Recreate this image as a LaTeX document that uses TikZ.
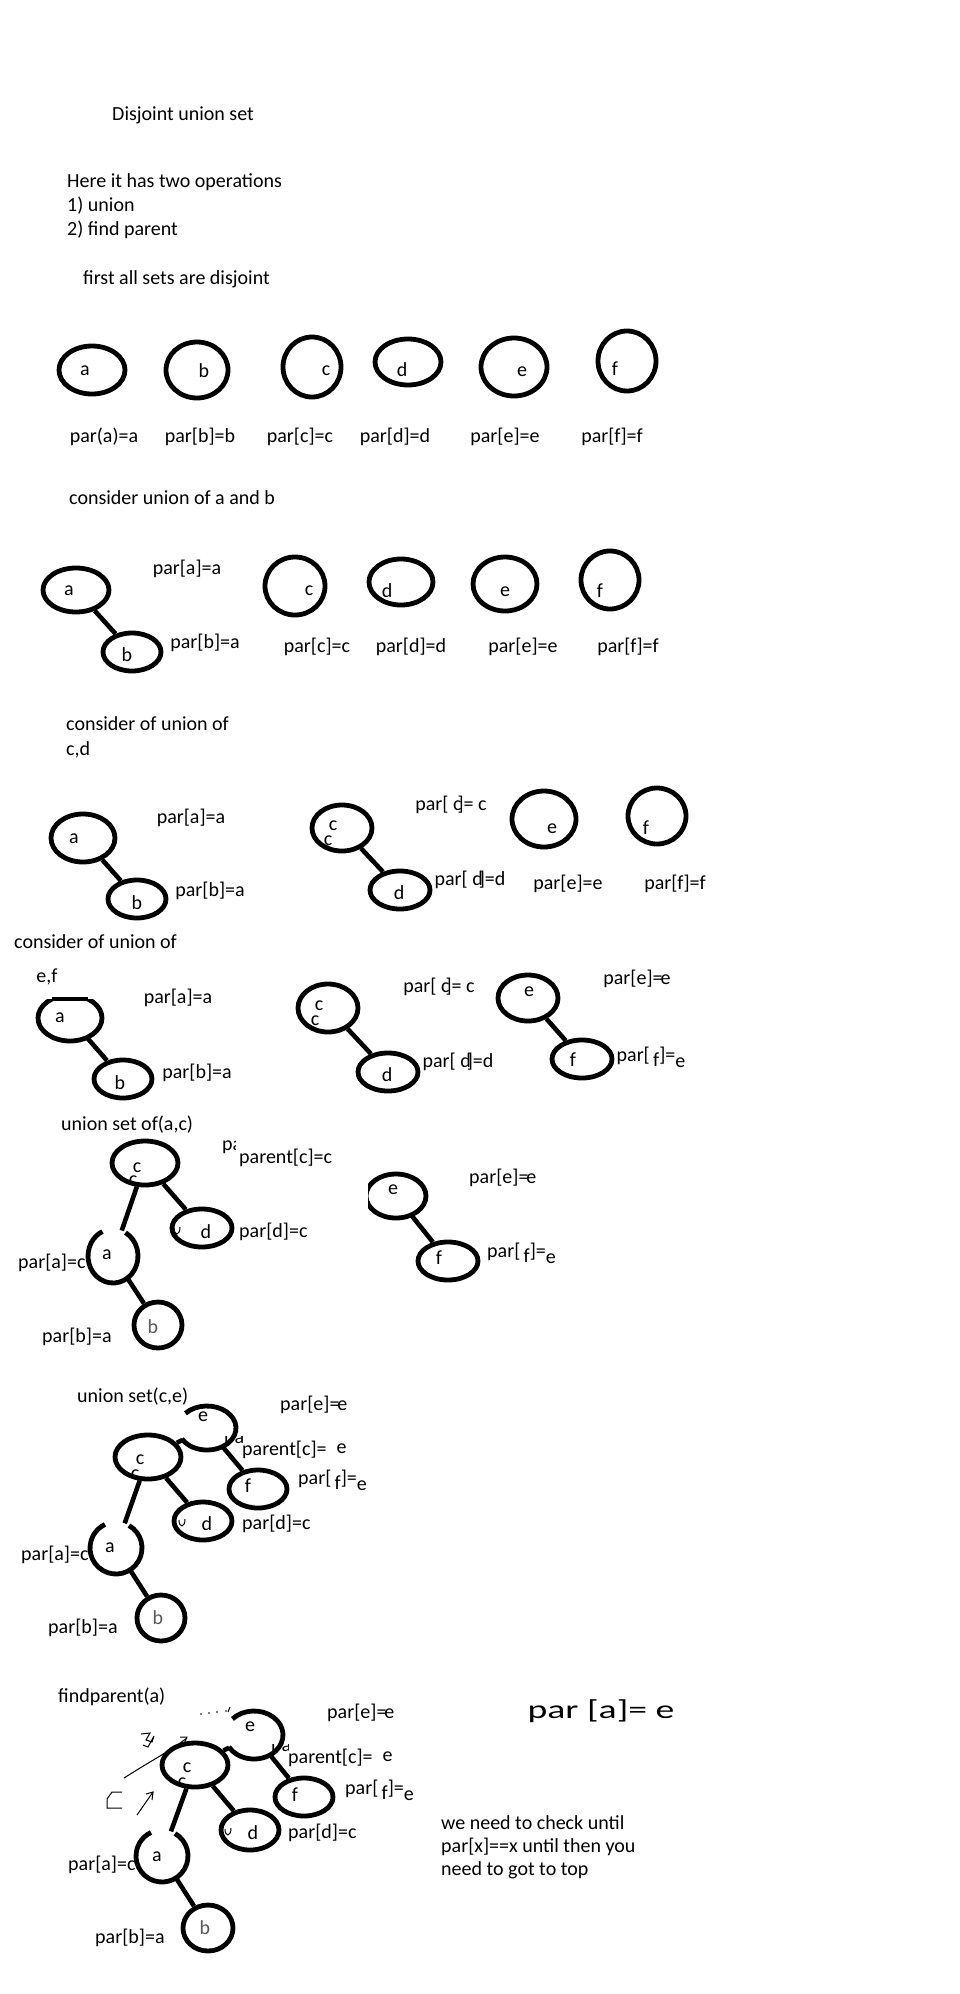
\documentclass[tikz,border=0pt]{standalone}
\usepackage{fontspec}
\setmainfont{Carlito}
\usetikzlibrary{shapes.geometric}
\newcommand\ringnode[5]{\node[ring, minimum width={2*#4}, minimum height={2*#5}] (#1) at (#2,#3) {};}
\newcommand\hollownode[5]{\node[ellipse, inner sep=0pt, minimum width={2*#4}, minimum height={2*#5}] (#1) at (#2,#3) {};}
\begin{document}
\begin{tikzpicture}[x=1pt,y=-1pt,
  txt/.style={inner sep=0pt, font=\fontsize{20}{24}\selectfont},
  lt/.style={txt, anchor=west},
  ring/.style={ellipse, draw, line width=4.8pt, inner sep=0pt},
  link/.style={line width=4.6pt},
  arcline/.style={line width=4.8pt},
  scribble/.style={line width=1pt}]
\useasboundingbox[fill=white] (0,0) rectangle (960,1994);

% ---------- intro ----------
\node[lt] (title) at (112,115) {Disjoint union set};
\node[lt] (intro1) at (67,182) {Here it has two operations};
\node[lt] (intro2) at (67,206) {1) union};
\node[lt] (intro3) at (67,230) {2) find parent};
\node[lt] (intro4) at (83,279) {first all sets are disjoint};

% ---------- row 1 ----------
\ringnode{r1a}{92}{370}{33}{24}
\ringnode{r1b}{197}{370}{31}{28}
\ringnode{r1c}{312}{367}{29}{30}
\ringnode{r1d}{408}{362}{33}{23}
\ringnode{r1e}{514}{367}{33}{29}
\ringnode{r1f}{627}{361}{29}{30}
\node[txt] (r1al) at (85,371) {a};
\node[txt] (r1bl) at (204,371) {b};
\node[txt] (r1cl) at (326,371) {c};
\node[txt] (r1dl) at (402,370) {d};
\node[txt] (r1el) at (522,372) {e};
\node[txt] (r1fl) at (615,369) {f};
\node[txt] (p1a) at (104,437) {par(a)=a};
\node[txt] (p1b) at (200,437) {par[b]=b};
\node[txt] (p1c) at (300,437) {par[c]=c};
\node[txt] (p1d) at (395,437) {par[d]=d};
\node[txt] (p1e) at (505,437) {par[e]=e};
\node[txt] (p1f) at (612,437) {par[f]=f};

% ---------- row 2 ----------
\node[lt] (cap2) at (69,498) {consider union of a and b};
\ringnode{r2a}{76}{590}{33}{22}
\ringnode{r2b}{132}{652}{29}{19}
\draw[link] (r2a) -- (r2b);
\node[txt] (r2al) at (69,591) {a};
\node[txt] (r2bl) at (127,655) {b};
\node[txt] (p2a) at (187,569) {par[a]=a};
\node[txt] (p2b) at (205,643) {par[b]=a};
\ringnode{r2c}{295}{586}{30}{29}
\ringnode{r2d}{401}{582}{32}{23}
\ringnode{r2e}{505}{584}{32}{27}
\ringnode{r2f}{610}{580}{29}{29}
\node[txt] (r2cl) at (309,591) {c};
\node[txt] (r2dl) at (387,591) {d};
\node[txt] (r2el) at (505,592) {e};
\node[txt] (r2fl) at (600,591) {f};
\node[txt] (p2c) at (317,647) {par[c]=c};
\node[txt] (p2d) at (411,647) {par[d]=d};
\node[txt] (p2e) at (523,647) {par[e]=e};
\node[txt] (p2f) at (628,647) {par[f]=f};

% ---------- row 3 ----------
\node[lt] (cap3a) at (66,724) {consider of union of};
\node[lt] (cap3b) at (66,750) {c,d};
\ringnode{r3a}{83}{838}{32}{24}
\ringnode{r3b}{137}{899}{29}{19}
\draw[link] (r3a) -- (r3b);
\node[txt] (r3al) at (74,839) {a};
\node[txt] (r3bl) at (137,903) {b};
\node[txt] (p3a) at (191,818) {par[a]=a};
\node[txt] (p3b) at (210,891) {par[b]=a};
\ringnode{r3c}{342}{828}{30}{23}
\ringnode{r3d}{400}{890}{30}{19}
\draw[link] (r3c) -- (r3d);
\node[txt] (r3cl) at (333,826) {c};
\node[txt] (r3cm) at (328,841) {c};
\node[txt] (r3dl) at (399,893) {d};
\node[txt] (p3c) at (451,805) {par[ c\kern-4pt]= c};
\node[txt] (p3d) at (470,880) {par[ d\kern-4pt]=d};
\ringnode{r3e}{544}{819}{32}{28}
\ringnode{r3f}{657}{816}{29}{28}
\node[txt] (r3el) at (552,829) {e};
\node[txt] (r3fl) at (646,828) {f};
\node[txt] (p3e) at (568,884) {par[e]=e};
\node[txt] (p3f) at (675,884) {par[f]=f};

% ---------- row 4 ----------
\node[lt] (cap4a) at (14,942) {consider of union of};
\node[txt] (cap4b) at (47,977) {e,f};
\hollownode{r4a}{70}{1018}{32}{23}
\begin{scope}
  \clip (30,999) rectangle (110,1050);
  \draw[arcline] (r4a.center) ellipse[x radius=32, y radius=23];
\end{scope}
\draw[arcline] (52,999) -- (88,999);
\ringnode{r4b}{123}{1079}{29}{19}
\draw[link] (r4a) -- (r4b);
\node[txt] (r4al) at (60,1018) {a};
\node[txt] (r4bl) at (120,1083) {b};
\node[txt] (p4a) at (178,998) {par[a]=a};
\node[txt] (p4b) at (197,1073) {par[b]=a};
\ringnode{r4c}{328}{1008}{30}{24}
\ringnode{r4d}{388}{1072}{30}{19}
\draw[link] (r4c) -- (r4d);
\node[txt] (r4cl) at (319,1006) {c};
\node[txt] (r4cm) at (315,1021) {c};
\node[txt] (r4dl) at (387,1075) {d};
\node[txt] (p4c) at (439,987) {par[ c\kern-4pt]= c};
\node[txt] (p4d) at (458,1062) {par[ d\kern-4pt]=d};
\ringnode{r4e}{528}{998}{30}{23}
\ringnode{r4f}{582}{1059}{30}{19}
\draw[link] (r4e) -- (r4f);
\node[txt] (r4el) at (529,992) {e};
\node[txt] (r4fl) at (573,1060) {f};
\node[txt] (p4e) at (637,979) {par[e]=\kern-2pt e};
\node[txt] (p4f) at (651,1057) {par[\,\raisebox{-5pt}{f}]=\raisebox{-6pt}{e}};

% ---------- union set of (a,c) ----------
\node[lt] (cap5) at (61,1125) {union set of(a,c)};
\ringnode{t1c}{145}{1163}{33}{22}
\ringnode{t1d}{202}{1228}{30}{19}
\hollownode{t1a}{113}{1256}{25}{27}
\draw[arcline] (t1a.center) ++(300:25 and 27) arc[start angle=300, end angle=605, x radius=25, y radius=27];
\ringnode{t1b}{158}{1325}{24}{23}
\draw[link] (t1c) -- (t1a);
\draw[link] (t1c) -- (t1d);
\draw[link] (t1a) -- (t1b);
\node[txt] (t1cl) at (137,1168) {c};
\node[txt] (t1cm) at (133,1181) {c};
\node[txt] (t1dl) at (206,1232) {d};
\draw[scribble] (174,1228) .. controls (174,1236) and (180,1236) .. (180,1227);
\node[txt] (t1al) at (107,1255) {a};
\node[txt, text=black!65] (t1bl) at (153,1327) {b};
\begin{scope}
  \clip (215,1135) rectangle (235,1162);
  \node[lt] (t1frag) at (222,1147) {pa};
\end{scope}
\node[lt] (p5c) at (239,1158) {parent[c]=c};
\node[lt] (p5d) at (239,1232) {par[d]=c};
\node[lt] (p5a) at (18,1263) {par[a]=c};
\node[lt] (p5b) at (42,1337) {par[b]=a};
\hollownode{t1e}{396}{1196}{30}{22}
\begin{scope}
  \clip (368,1160) rectangle (440,1230);
  \draw[arcline] (t1e.center) ellipse[x radius=30, y radius=22];
\end{scope}
\ringnode{t1f}{448}{1261}{30}{19}
\draw[link] (t1e) -- (t1f);
\node[txt] (t1el) at (393,1190) {e};
\node[txt] (t1fl) at (439,1258) {f};
\node[lt] (p5e) at (469,1178) {par[e]=\kern-2pt e};
\node[lt] (p5f) at (487,1253) {par[\,\raisebox{-5pt}{f}]=\raisebox{-6pt}{e}};

% ---------- union set (c,e) ----------
\node[lt] (cap6) at (77,1397) {union set(c,e)};
\hollownode{t2e}{207}{1428}{29}{22}
\draw[arcline] (t2e.center) ++(222:29 and 22) arc[start angle=222, end angle=510, x radius=29, y radius=22];
\ringnode{t2c}{148}{1457}{33}{22}
\ringnode{t2f}{258}{1489}{29}{19}
\ringnode{t2d}{203}{1521}{29}{19}
\hollownode{t2a}{116}{1548}{26}{26}
\draw[arcline] (t2a.center) ++(300:26 and 26) arc[start angle=300, end angle=605, x radius=26, y radius=26];
\ringnode{t2b}{161}{1618}{24}{23}
\draw[link] (t2e) -- (t2c);
\draw[link] (t2e) -- (t2f);
\draw[link] (t2c) -- (t2d);
\draw[link] (t2c) -- (t2a);
\draw[link] (t2a) -- (t2b);
\node[txt] (t2el) at (203,1417) {e};
\node[txt] (t2cl) at (140,1460) {c};
\node[txt] (t2cm) at (135,1475) {c};
\node[txt] (t2fl) at (248,1486) {f};
\node[txt] (t2dl) at (207,1524) {d};
\draw[scribble] (179,1520) .. controls (179,1528) and (185,1528) .. (185,1519);
\node[txt] (t2al) at (110,1548) {a};
\node[txt, text=black!65] (t2bl) at (158,1618) {b};
\begin{scope}
  \clip (224,1436) rectangle (242,1448);
  \node[lt] (t2frag) at (224,1440) {pa};
\end{scope}
\node[lt] (p6e) at (280,1405) {par[e]=\kern-2pt e};
\node[lt] (p6c) at (242,1450) {parent[c]=\hspace{10pt}\raisebox{2pt}{e}};
\node[lt] (p6f) at (298,1480) {par[\,\raisebox{-5pt}{f}]=\raisebox{-6pt}{e}};
\node[lt] (p6d) at (242,1524) {par[d]=c};
\node[lt] (p6a) at (21,1555) {par[a]=c};
\node[lt] (p6b) at (48,1628) {par[b]=a};

% ---------- findparent(a) ----------
\node[lt] (cap7) at (58,1697) {findparent(a)};
\hollownode{t3e}{254}{1735}{29}{24}
\draw[arcline] (t3e.center) ++(222:29 and 24) arc[start angle=222, end angle=510, x radius=29, y radius=24];
\ringnode{t3c}{195}{1765}{33}{22}
\ringnode{t3f}{304}{1797}{29}{19}
\ringnode{t3d}{250}{1830}{29}{20}
\hollownode{t3a}{162}{1856}{26}{26}
\draw[arcline] (t3a.center) ++(300:26 and 26) arc[start angle=300, end angle=605, x radius=26, y radius=26];
\ringnode{t3b}{208}{1928}{25}{23}
\draw[link] (t3e) -- (t3c);
\draw[link] (t3e) -- (t3f);
\draw[link] (t3c) -- (t3d);
\draw[link] (t3c) -- (t3a);
\draw[link] (t3a) -- (t3b);
\node[txt] (t3el) at (250,1727) {e};
\node[txt] (t3cl) at (187,1768) {c};
\node[txt] (t3cm) at (182,1783) {c};
\node[txt] (t3fl) at (295,1795) {f};
\node[txt] (t3dl) at (253,1833) {d};
\draw[scribble] (225,1829) .. controls (225,1837) and (231,1837) .. (231,1828);
\node[txt] (t3al) at (157,1857) {a};
\node[txt, text=black!65] (t3bl) at (205,1928) {b};
\begin{scope}
  \clip (271,1744) rectangle (288,1756);
  \node[lt] (t3frag) at (271,1748) {pa};
\end{scope}
\node[lt] (p7e) at (327,1713) {par[e]=\kern-2pt e};
\node[lt] (p7c) at (288,1758) {parent[c]=\hspace{10pt}\raisebox{2pt}{e}};
\node[lt] (p7f) at (345,1790) {par[\,\raisebox{-5pt}{f}]=\raisebox{-6pt}{e}};
\node[lt] (p7d) at (288,1833) {par[d]=c};
\node[lt] (p7a) at (68,1865) {par[a]=c};
\node[lt] (p7b) at (95,1938) {par[b]=a};
% scribbles
\foreach \px/\py in {201/1714, 209/1713, 217/1712, 226/1711}
  \fill (\px,\py) circle[radius=0.9];
\draw[scribble] (228,1712) -- (230,1707);
\draw[scribble] (141,1734) -- (150,1733) -- (146,1740) -- (152,1742) -- (154,1736) -- (148,1747) -- (143,1745);
\draw[scribble] (124,1778) -- (140,1768) -- (160,1756) -- (176,1746) -- (187,1738);
\draw[scribble] (180,1737) -- (187,1737) -- (184,1744);
\draw[scribble] (122,1792) -- (112,1792) -- (107,1799) -- (107,1808) -- (122,1808);
\draw[scribble] (137,1815) -- (153,1792);
\draw[scribble] (146,1794) -- (153,1792) -- (152,1800);

% handwritten note and explanation
\node[txt] (hand) at (601,1711) {\scalebox{1.45}[1]{\fontsize{26}{30}\selectfont par [a]= e}};
\node[lt] (expl1) at (441,1823) {we need to check until};
\node[lt] (expl2) at (441,1847) {par[x]==x until then you};
\node[lt] (expl3) at (441,1870) {need to got to top};
\end{tikzpicture}
\end{document}
